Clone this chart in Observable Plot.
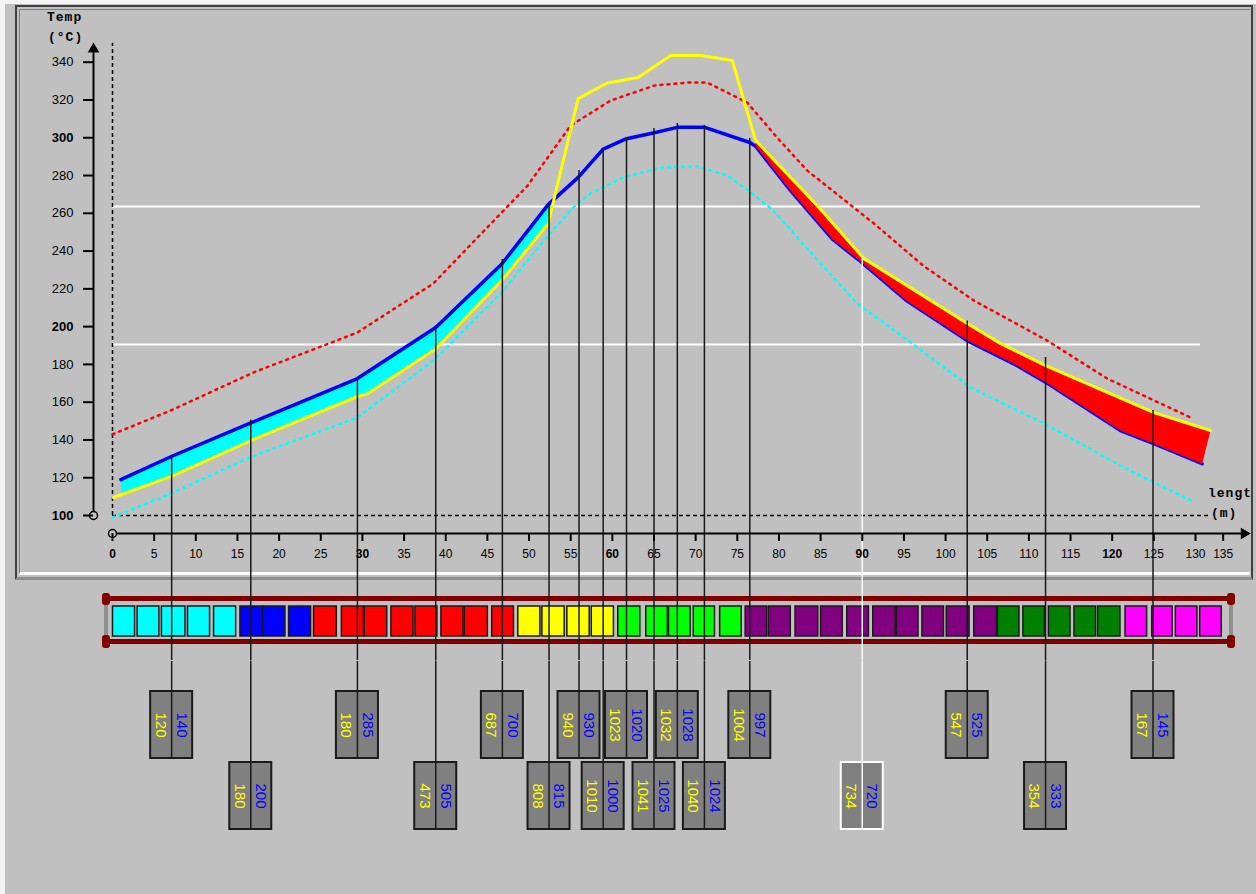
<!DOCTYPE html>
<html><head><meta charset="utf-8">
<script src="https://cdn.jsdelivr.net/npm/d3@7"></script>
<script src="https://cdn.jsdelivr.net/npm/@observablehq/plot@0.6"></script>
<style>
html,body{margin:0;padding:0;background:#c0c0c0;width:1256px;height:894px;overflow:hidden;}
#root{position:relative;width:1256px;height:894px;}
.abs{position:absolute;box-sizing:border-box;}
.lbl{position:absolute;font-family:"Liberation Mono",monospace;font-weight:bold;font-size:13px;color:#000;letter-spacing:1px;white-space:pre;}
#upper,#strip,#boxes{position:absolute;left:0;}
#upper{top:0}#strip{top:580px}#boxes{top:660px}
</style></head><body><div id="root">
<div class="abs" style="left:0;top:0;width:5px;height:894px;background:#f4f4f4"></div>
<div class="abs" style="left:0;top:0;width:1256px;height:4px;background:#f4f4f4"></div>
<div class="abs" style="left:15px;top:5px;width:1238px;height:575px;border-top:2px solid #404040;border-left:2px solid #404040;border-right:2px solid #404040;border-bottom:3px solid #909090"></div>
<div class="abs" style="left:19px;top:9px;width:1231px;height:566px;border-left:1px solid #808080;border-top:1px solid #808080;border-bottom:3px solid #ffffff"></div>
<div class="abs" style="left:106px;top:596px;width:1126px;height:5px;background:#800000"></div>
<div class="abs" style="left:106px;top:639px;width:1126px;height:5px;background:#800000"></div>
<div class="abs" style="left:102px;top:593px;width:8px;height:12px;background:#800000;border-radius:3px"></div>
<div class="abs" style="left:104px;top:605px;width:4px;height:30px;background:#909090"></div>
<div class="abs" style="left:102px;top:635px;width:8px;height:13px;background:#800000;border-radius:3px"></div>
<div class="abs" style="left:1227px;top:593px;width:8px;height:12px;background:#800000;border-radius:3px"></div>
<div class="abs" style="left:1229px;top:605px;width:4px;height:30px;background:#909090"></div>
<div class="abs" style="left:1227px;top:635px;width:8px;height:13px;background:#800000;border-radius:3px"></div>
<div id="upper"></div><div id="strip"></div><div id="boxes"></div>
<div class="lbl" style="left:47px;top:10px">Temp</div>
<div class="lbl" style="left:48px;top:30px">(°C)</div>
<div class="lbl" style="left:1208px;top:486px">lengt</div>
<div class="lbl" style="left:1211px;top:506px">(m)</div>
</div>
<script>
// ---- axis ticks ----
const yTicks = [120,140,160,180,220,240,260,280,320,340];
const yTicksBold = [100,200,300];
const xTicks = [5,10,15,20,25,35,40,45,50,55,65,70,75,80,85,95,100,105,110,115,125,130];
const xTicksBold = [0,30,60,90,120];
const xTickLast = [135];

// ---- curves: length (m) and temperature (°C) ----
const blueX = [1,7.2,16.6,29.4,38.8,46.7,52.3,55.9,58.9,61.7,64.9,67.8,71.1,76.5,77.2,81.4,86.5,89.8,95.4,102.6,108.2,112,121,125,130.8];
const blueT = [119,131.5,149,172.5,199.5,233,264.6,279,294,299.5,302.5,305.5,305.5,297.5,295.5,272,246,234.5,213.5,192.6,180.3,170.6,145,138,127.4];
const yellowX = [0.1,1,7.2,16.6,29.4,30.6,38.8,46.7,52.3,53,55.9,59.4,63.1,67,70.6,74.4,77.2,84.6,90.2,102.6,106.6,112,125,131.8];
const yellowT = [109.5,111,121,139.7,163,164.5,188.3,224.4,254.6,267.5,320.7,329,331.9,343.5,343.5,340.9,298.5,264,236,201.6,191,179.4,154.5,145];
const upperX = [0,7,16.9,29.4,38.5,46.6,49.8,55,59.8,65,69,71.4,76.2,79.8,83.4,91.4,97.4,103.4,112.2,119.4,129.4];
const upperT = [143,155.6,175.7,196.9,222.8,259.9,274.5,306.5,319.7,327.6,329.2,329.2,318.6,300,282.6,254.6,232,213.8,192.6,172.5,151.9];
const lowerX = [0,7,16.9,29.4,38.5,46.6,52.3,55.3,57.4,61.3,65.8,70.2,73.8,76.2,79.2,85.4,89.4,95.4,103,111.8,121.4,129.4];
const lowerT = [99,111.6,131.5,151.9,182,217.5,248.2,263,270.5,279,284.2,284.8,280,272.5,262,231.6,212.2,193,167.8,148.7,125.4,108];
const limitT = [190.5, 263.6];

// ---- sensors ----
const sensorX = [7.1,16.6,29.4,38.8,46.8,52.4,56,58.9,61.7,65,67.8,71.05,76.5,90,102.6,112,124.9];
const sensorTop = [131.8,150.4,173,200.6,235.5,265,282.6,294,299.6,304.9,307.5,306.5,299.6,236,203,183.6,155.6];
const sensorRow = [1,2,1,2,1,2,1,2,1,2,1,2,1,2,1,2,1];
const sensorYellow = [120,180,180,473,687,808,940,1010,1023,1041,1032,1040,1004,734,547,354,167];
const sensorBlue = [140,200,285,505,700,815,930,1000,1020,1025,1028,1024,997,720,525,333,145];
const selectedSensor = 90;

// ---- zone cells of the strip ----
const cellColor = ["#00ffff","#00ffff","#00ffff","#00ffff","#00ffff",
  "#0000ff","#0000ff","#0000ff",
  "#ff0000","#ff0000","#ff0000","#ff0000","#ff0000","#ff0000","#ff0000","#ff0000",
  "#ffff00","#ffff00","#ffff00","#ffff00",
  "#00ff00","#00ff00","#00ff00","#00ff00","#00ff00",
  "#800080","#800080","#800080","#800080","#800080","#800080","#800080","#800080","#800080","#800080",
  "#008000","#008000","#008000","#008000","#008000",
  "#ff00ff","#ff00ff","#ff00ff","#ff00ff"];
const cellStart = [0.06,3.01,5.93,9.06,12.19, 15.36,18.14,21.19, 24.19,27.53,30.28,33.48,36.36,39.48,42.28,45.58, 48.71,51.6,54.6,57.53, 60.71,64.07,66.8,69.77,72.94, 76.0,78.78,81.99,85.05,88.2,91.32,94.15,97.22,100.14,103.44, 106.28,109.34,112.4,115.47,118.3, 121.6,124.81,127.64,130.56];
const cellEnd = [2.71,5.63,8.76,11.71,14.84, 18.06,20.76,23.84, 26.93,30.19,32.98,36.14,39.0,42.14,45.06,48.19, 51.36,54.28,57.28,60.19, 63.36,66.66,69.4,72.32,75.53, 78.59,81.42,84.72,87.65,90.8,94.01,96.75,99.81,102.88,106.18, 108.87,111.93,115.0,118.06,120.99, 124.19,127.26,130.23,133.15];

// ---- tables ----
const pts = (X, T) => X.map((x, i) => ({x, t: T[i]}));
const blue = pts(blueX, blueT), yellow = pts(yellowX, yellowT);
const upper = pts(upperX, upperT), lower = pts(lowerX, lowerT);
const cyanPoly = blue.filter(d => d.x <= 53).concat(yellow.filter(d => d.x >= 1 && d.x <= 53).reverse());
const redPoly = blue.filter(d => d.x >= 77.2).concat(yellow.filter(d => d.x >= 77.2).reverse());
const sensors = sensorX.map((x, i) => ({x, top: sensorTop[i], row: sensorRow[i], yel: sensorYellow[i], blu: sensorBlue[i],
  color: x === selectedSensor ? "#ffffff" : "#1a1a1a"}));
const cells = cellColor.map((c, i) => ({x1: cellStart[i], x2: cellEnd[i], color: c}));

const X = {domain: [0, 130], range: [112, 1195]};
const font = {fontFamily: "'Liberation Sans', Arial, sans-serif", background: "transparent", overflow: "hidden", color: "#000"};

const up = Plot.plot({
  width: 1256, height: 580,
  marginLeft: 93, marginRight: 12, marginTop: 47, marginBottom: 47,
  x: X, y: {domain: [100, 340], range: [515, 61.7]},
  style: {...font, fontSize: "12px"},
  marks: [
    Plot.ruleY(limitT, {x1: 0, x2: 130.6, stroke: "#ffffff", strokeWidth: 2}),
    Plot.ruleX([0], {y1: 100, y2: 350, stroke: "#000", strokeWidth: 1.5, strokeDasharray: "4,3"}),
    Plot.ruleY([100], {x1: 0, x2: 131.8, stroke: "#000", strokeWidth: 1.5, strokeDasharray: "4,3"}),
    Plot.line(upper, {x: "x", y: "t", stroke: "#ff0000", strokeWidth: 2.5, strokeDasharray: "2,5"}),
    Plot.line(lower, {x: "x", y: "t", stroke: "#00ffff", strokeWidth: 2.5, strokeDasharray: "2,5"}),
    Plot.line(cyanPoly, {x: "x", y: "t", fill: "#00ffff", stroke: "none"}),
    Plot.line(blue, {x: "x", y: "t", stroke: "#0000ff", strokeWidth: 3.5}),
    Plot.line(redPoly, {x: "x", y: "t", fill: "#ff0000", stroke: "none"}),
    Plot.line(yellow, {x: "x", y: "t", stroke: "#ffff00", strokeWidth: 3}),
    Plot.ruleX(sensors, {x: "x", y1: 0, y2: "top", stroke: "color", strokeWidth: 1.5}),
    // axes
    Plot.ruleX([0], {y1: 100, y2: 345, dx: -19, stroke: "#000", strokeWidth: 2}),
    Plot.dot([0], {x: 0, y: 345, dx: -19, dy: -3.5, symbol: "triangle", r: 4.3, fill: "#000", stroke: "none"}),
    Plot.dot([0], {x: 0, y: 100, dx: -19, r: 4, fill: "#c0c0c0", stroke: "#000", strokeWidth: 1.5}),
    Plot.ruleY([100], {x1: 0, x2: 135.8, dy: 18, stroke: "#000", strokeWidth: 2}),
    Plot.dot([0], {x: 135.84, y: 100, dy: 18, rotate: 90, symbol: "triangle", r: 4.3, fill: "#000", stroke: "none"}),
    Plot.dot([0], {x: 0, y: 100, dy: 18, r: 4, fill: "#c0c0c0", stroke: "#000", strokeWidth: 1.5}),
    Plot.axisY(yTicks, {anchor: "left", tickSize: 10, tickPadding: 10, label: null, fontSize: 13, strokeWidth: 2}),
    Plot.axisY(yTicksBold, {anchor: "left", tickSize: 10, tickPadding: 10, label: null, fontSize: 13, fontWeight: "bold", strokeWidth: 2}),
    Plot.axisX(xTicks, {anchor: "bottom", tickSize: 8, tickPadding: 8, label: null, fontSize: 12, strokeWidth: 2}),
    Plot.axisX(xTicksBold, {anchor: "bottom", tickSize: 8, tickPadding: 8, label: null, fontSize: 12, fontWeight: "bold", strokeWidth: 2}),
    Plot.axisX(xTickLast, {anchor: "bottom", tickSize: 8, tickPadding: 8, label: null, fontSize: 12, strokeWidth: 2, dx: -14})
  ]
});
document.getElementById("upper").appendChild(up);

const strip = Plot.plot({
  width: 1256, height: 80,
  marginLeft: 0, marginRight: 0, marginTop: 26, marginBottom: 24,
  x: {...X, axis: null},
  style: font,
  marks: [
    Plot.rect(cells, {x1: "x1", x2: "x2", fill: "color", stroke: "#1a1a1a", strokeWidth: 1.5}),
    Plot.ruleX(sensors, {x: "x", insetTop: -26, insetBottom: -24, stroke: "color", strokeWidth: 1.5})
  ]
});
document.getElementById("strip").appendChild(strip);

const boxes = Plot.plot({
  width: 1256, height: 234,
  marginLeft: 0, marginRight: 0, marginTop: 0, marginBottom: 0,
  x: {...X, axis: null},
  y: {type: "band", domain: [1, 2], range: [30, 169], paddingInner: 0.06, paddingOuter: 0, axis: null},
  style: font,
  marks: [
    Plot.barX(sensors, {x1: d => d.x - 2.52, x2: d => d.x + 2.52, y: "row", fill: "#808080", stroke: "color", strokeWidth: 2, inset: 0}),
    Plot.tickX(sensors.filter(d => d.row === 1), {x: "x", y: "row", insetTop: -30, stroke: "color", strokeWidth: 1.5}),
    Plot.tickX(sensors.filter(d => d.row === 2), {x: "x", y: "row", insetTop: -101.6, stroke: "color", strokeWidth: 1.5}),
    Plot.text(sensors, {x: d => d.x - 1.35, y: "row", text: d => String(d.yel), rotate: 90, fill: "#ffff00", fontSize: 15}),
    Plot.text(sensors, {x: d => d.x + 1.2, y: "row", text: d => String(d.blu), rotate: 90, fill: "#0000ff", fontSize: 15})
  ]
});
document.getElementById("boxes").appendChild(boxes);
</script>
</body></html>
